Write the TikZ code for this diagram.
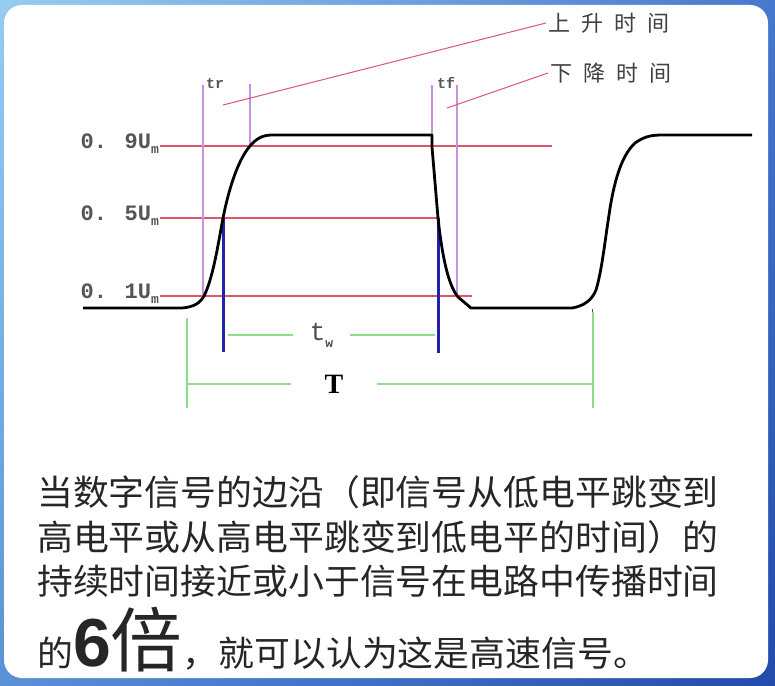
\documentclass[tikz,border=0pt]{standalone}
\usepackage{fontspec}
\usepackage{xcolor}
\usepackage{tikz}
\usetikzlibrary{positioning,calc,shadings}
\newfontfamily\cjk{Noto Sans CJK SC}
\newfontfamily\cjkbody[FakeStretch=1.025]{Noto Sans CJK SC}
\newfontfamily\monof{Liberation Mono}
\newfontfamily\seriff{Liberation Serif}
\newfontfamily\arialf{Liberation Sans}
\newcommand{\setfs}[1]{\fontsize{#1}{#1}\selectfont}
\definecolor{bgtl}{RGB}{150,205,242}
\definecolor{bgtr}{RGB}{70,120,205}
\definecolor{bgbl}{RGB}{90,145,215}
\definecolor{bgbr}{RGB}{35,75,170}
\definecolor{levelred}{RGB}{222,85,110}
\definecolor{edgeviolet}{RGB}{200,145,222}
\definecolor{spangreen}{RGB}{140,222,140}
\definecolor{pulseblue}{RGB}{35,35,170}
\definecolor{labelgray}{RGB}{85,85,85}

\begin{document}
\begin{tikzpicture}[
    x=1pt, y=-1pt,
    wave/.style={line width=2.8pt, black, line join=round},
    level/.style={levelred, line width=1.3pt},
    edgemark/.style={edgeviolet, line width=1.4pt},
    span/.style={spangreen, line width=2pt},
    mid/.style={pulseblue, line width=3pt},
    lvlabel/.style={anchor=base east, inner sep=0pt, text=labelgray, font=\monof\bfseries\setfs{22}},
    tlabel/.style={anchor=base west, inner sep=0pt, text=labelgray, font=\monof\bfseries\setfs{15}},
    note/.style={anchor=west, inner sep=2pt, text=black!75, font=\cjk\setfs{22}},
    body/.style={anchor=base west, inner sep=0pt, text=black!85, font=\cjkbody\setfs{35}}
]
    \shade[upper left=bgtl, upper right=bgtr, lower left=bgbl, lower right=bgbr] (0,0) rectangle (775,685);
    \fill[white, rounded corners=18pt] (4,5) rectangle (768,678);
    \useasboundingbox (0,0) rectangle (775,685);

    \draw[level] (160,146) -- (552,146);
    \draw[level] (160,218) -- (437,218);
    \draw[level] (160,296) -- (472,296);

    \draw[edgemark] (203,85) -- (203,298);
    \draw[edgemark] (250,84) -- (250,147);
    \draw[edgemark] (432,85) -- (432,150);
    \draw[edgemark] (457,85) -- (457,297);

    \node[lvlabel] (l9) at (159,148) {0. 9U\raisebox{-5pt}{\setfs{13}m}};
    \node[lvlabel] (l5) at (159,220) {0. 5U\raisebox{-5pt}{\setfs{13}m}};
    \node[lvlabel] (l1) at (159,298) {0. 1U\raisebox{-5pt}{\setfs{13}m}};
    \node[tlabel] (tr) at (206,88) {tr};
    \node[tlabel] (tf) at (437,88) {tf};

    \node[note] (rise) at (546,23) {上\hspace{11pt}升\hspace{11pt}时\hspace{11pt}间};
    \node[note] (fall) at (548,73) {下\hspace{11pt}降\hspace{11pt}时\hspace{11pt}间};
    \coordinate (risefoot) at (223,105);
    \coordinate (fallfoot) at (447,108);
    \draw[levelred, line width=1pt] (risefoot) -- (rise.west);
    \draw[levelred, line width=1pt] (fallfoot) -- (fall.west);

    \draw[mid] (223,218) -- (223,352);
    \draw[mid] (438,218) -- (438,353);

    \draw[wave] (83,308) -- (182,308) .. controls (194,307) and (200,303) .. (204,296)
        .. controls (213,278) and (218,245) .. (223,218) .. controls (229,188) and (238,160) .. (250,146)
        .. controls (256,139) and (262,135) .. (272,135) -- (432,135) -- (432,147) -- (438,218)
        .. controls (442,255) and (448,285) .. (458,297) -- (471,308) -- (572,308)
        .. controls (584,306) and (592,300) .. (596,290) .. controls (602,270) and (605,240) .. (609,215)
        .. controls (614,180) and (622,155) .. (635,143) .. controls (645,136) and (652,135) .. (663,135)
        -- (752,135);
    \draw[black!70, line width=1pt] (592,309) -- (592,318);

    \node[inner sep=0pt, minimum width=57pt, text=black!70, font=\monof\setfs{26}] (width) at (321.5,335) {t\raisebox{-7pt}{\bfseries\setfs{13}w}};
    \node[inner sep=0pt, minimum width=85pt, font=\seriff\bfseries\setfs{28}] (period) at (334,384) {T};
    \coordinate (wl) at (228,335);
    \coordinate (wr) at (435,335);
    \coordinate (pl) at (187,384);
    \coordinate (pr) at (593,384);
    \draw[span] (187,318) -- (187,408);
    \draw[span] (593,312) -- (593,408);
    \draw[span] (wl) -- (width.west);
    \draw[span] (width.east) -- (wr);
    \draw[span] (pl) -- (period.west);
    \draw[span] (period.east) -- (pr);

    \node[body] (line1) at (37,505) {当数字信号的边沿（即信号从低电平跳变到};
    \node[body] (line2) at (37,550) {高电平或从高电平跳变到低电平的时间）的};
    \node[body] (line3) at (37,594) {持续时间接近或小于信号在电路中传播时间};
    \node[body] (line4) at (37,666) {的{\arialf\bfseries\setfs{68}6}{\setfs{70}倍}，就可以认为这是高速信号。};
\end{tikzpicture}
\end{document}
